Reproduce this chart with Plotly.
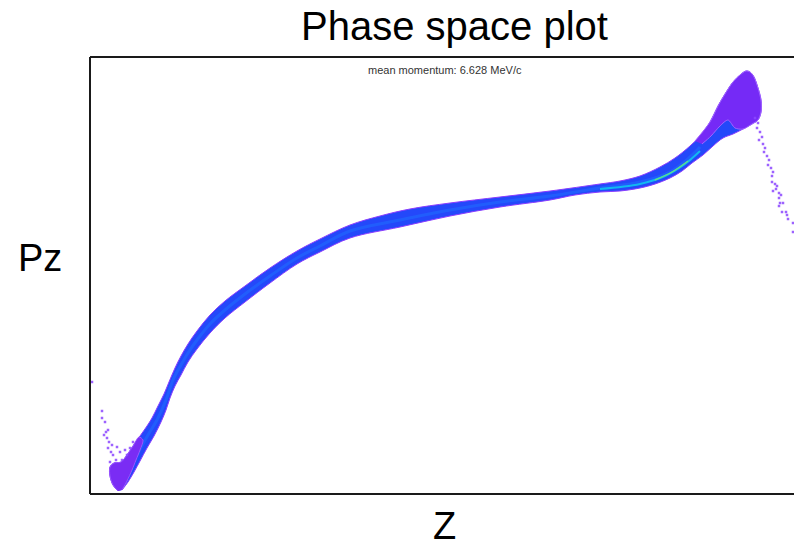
import plotly.graph_objects as go

# Beam envelope in longitudinal phase space: Z [mm] vs Pz [MeV/c]
# Outer boundary of the particle band (upper edge, then lower edge back)
band_z = [0.28, 0.23, 0.20, 0.20, 0.24, 0.31, 0.37, 0.43, 0.50, 0.57, 0.62, 0.68, 0.74, 0.79,
          0.85, 0.91, 0.98, 1.07, 1.20, 1.35, 1.55, 1.80, 2.07, 2.30, 2.60, 2.90, 3.20,
          3.60, 4.10, 4.60, 5.10, 5.30, 5.50, 5.70, 5.85, 6.00, 6.10, 6.20, 6.28, 6.35, 6.43,
          6.50, 6.56, 6.60,
          6.64, 6.68, 6.71, 6.71, 6.68, 6.62, 6.53, 6.43, 6.33, 6.23, 6.13, 6.02, 5.92, 5.80,
          5.65, 5.50, 5.30, 5.10, 4.85, 4.60, 4.10, 3.60, 3.10, 2.60, 2.30, 2.07, 1.80, 1.55,
          1.35, 1.20, 1.07, 0.98, 0.91, 0.85, 0.80, 0.76, 0.71, 0.64, 0.57, 0.50, 0.44, 0.38,
          0.32]
band_pz = [4.03, 4.09, 4.18, 4.27, 4.31, 4.32, 4.39, 4.48, 4.58, 4.68, 4.76, 4.88, 5.00, 5.12,
           5.26, 5.38, 5.50, 5.63, 5.79, 5.93, 6.08, 6.26, 6.43, 6.55, 6.69, 6.78, 6.85,
           6.91, 6.97, 7.03, 7.10, 7.13, 7.18, 7.27, 7.36, 7.48, 7.58, 7.72, 7.88, 8.00, 8.12,
           8.19, 8.23, 8.22,
           8.17, 8.06, 7.94, 7.82, 7.74, 7.70, 7.65, 7.60, 7.56, 7.48, 7.39, 7.31, 7.23, 7.16,
           7.10, 7.06, 7.03, 7.02, 6.99, 6.94, 6.87, 6.78, 6.67, 6.56, 6.42, 6.30, 6.11, 5.92,
           5.76, 5.61, 5.45, 5.32, 5.19, 5.08, 4.96, 4.84, 4.72, 4.58, 4.46, 4.33, 4.22, 4.12,
           4.04]

# Low-momentum tail (bunch head)
tip_z = [0.28, 0.23, 0.20, 0.20, 0.24, 0.31, 0.37, 0.43, 0.49, 0.53, 0.50, 0.46, 0.42, 0.37, 0.32]
tip_pz = [4.03, 4.09, 4.18, 4.27, 4.31, 4.32, 4.39, 4.48, 4.57, 4.54, 4.44, 4.34, 4.24, 4.13, 4.04]

# High-momentum fan near the peak
fan_z = [6.05, 6.20, 6.28, 6.35, 6.43, 6.50, 6.56, 6.60, 6.64, 6.68, 6.71, 6.71, 6.68, 6.62,
         6.53, 6.45, 6.38, 6.30, 6.21, 6.12]
fan_pz = [7.53, 7.72, 7.88, 8.00, 8.12, 8.19, 8.23, 8.22, 8.17, 8.06, 7.94, 7.82, 7.74, 7.70,
          7.65, 7.66, 7.74, 7.68, 7.58, 7.50]

# Dense core of the band
core_z = [0.47, 0.58, 0.67, 0.76, 0.83, 0.91, 0.98, 1.07, 1.20, 1.35, 1.55, 1.80, 2.07,
          2.30, 2.60, 3.10, 3.60, 4.10, 4.60, 5.10, 5.50, 5.80, 6.00, 6.10]
core_pz = [4.39, 4.59, 4.74, 4.94, 5.14, 5.29, 5.41, 5.54, 5.70, 5.84, 6.00, 6.18, 6.36,
           6.48, 6.63, 6.74, 6.84, 6.92, 6.98, 7.06, 7.12, 7.22, 7.37, 7.47]

# Highest-density streak
hot_z = [5.10, 5.50, 5.75, 5.95, 6.10]
hot_pz = [7.05, 7.10, 7.18, 7.30, 7.43]
peak_z = [5.65, 5.82, 5.98]
peak_pz = [7.14, 7.22, 7.33]

# Isolated particles in the tails
tail_r_z = [6.65, 6.68, 6.67, 6.70, 6.72, 6.69, 6.73, 6.75, 6.74, 6.77, 6.79, 6.78, 6.81, 6.83,
            6.82, 6.82, 6.85, 6.87, 6.86, 6.83, 6.89, 6.91, 6.89, 6.90, 6.93, 6.89, 6.92, 6.96,
            6.97, 6.98, 7.03, 7.03]
tail_r_pz = [7.76, 7.71, 7.66, 7.62, 7.57, 7.54, 7.50, 7.46, 7.42, 7.38, 7.34, 7.29, 7.26, 7.22,
             7.18, 7.12, 7.10, 7.08, 7.05, 7.03, 7.01, 6.99, 6.96, 6.91, 6.91, 6.88, 6.82, 6.82,
             6.79, 6.75, 6.71, 6.62]
tail_l_z = [0.02, 0.12, 0.12, 0.15, 0.16, 0.18, 0.14, 0.17, 0.19, 0.22, 0.18, 0.21, 0.23, 0.27,
            0.30, 0.26, 0.32, 0.20, 0.43, 0.40, 0.37, 0.35]
tail_l_pz = [5.12, 4.83, 4.76, 4.72, 4.62, 4.64, 4.59, 4.56, 4.52, 4.49, 4.46, 4.42, 4.39, 4.47,
             4.42, 4.34, 4.34, 4.32, 4.52, 4.46, 4.39, 4.44]

mean_momentum = 6.628

PURPLE = "#8a3cff"
fig = go.Figure()

fig.add_trace(go.Scatter(x=band_z, y=band_pz, mode="lines", fill="toself",
                         fillcolor="#2448fa",
                         line=dict(color=PURPLE, width=1.0, shape="spline", smoothing=1.0),
                         hoverinfo="skip"))
fig.add_trace(go.Scatter(x=core_z, y=core_pz, mode="lines",
                         line=dict(color="rgba(30,120,255,0.45)", width=3, shape="spline"),
                         hoverinfo="skip"))
fig.add_trace(go.Scatter(x=hot_z, y=hot_pz, mode="lines",
                         line=dict(color="#12b8f0", width=2, shape="spline"), hoverinfo="skip"))
fig.add_trace(go.Scatter(x=peak_z, y=peak_pz, mode="lines",
                         line=dict(color="#5fe08a", width=1.4, shape="spline"), hoverinfo="skip"))
fig.add_trace(go.Scatter(x=tip_z, y=tip_pz, mode="lines", fill="toself",
                         fillcolor="#7a2cf4",
                         line=dict(color="#9a55ff", width=1, shape="spline", smoothing=0.8),
                         hoverinfo="skip"))
fig.add_trace(go.Scatter(x=fan_z, y=fan_pz, mode="lines", fill="toself",
                         fillcolor="rgba(125,40,245,0.92)",
                         line=dict(color="#a066ff", width=1, shape="spline", smoothing=0.8),
                         hoverinfo="skip"))
for tz, tp in ((tail_r_z, tail_r_pz), (tail_l_z, tail_l_pz)):
    fig.add_trace(go.Scatter(x=tz, y=tp, mode="markers",
                             marker=dict(symbol="square", size=2.5, color="rgba(140,70,255,0.85)",
                                         line=dict(width=0)),
                             hoverinfo="skip"))

FONT = "Liberation Sans, Arial, sans-serif"
fig.update_layout(
    width=794, height=548,
    margin=dict(l=90, r=0, t=57, b=54),
    paper_bgcolor="white", plot_bgcolor="white",
    showlegend=False,
    font=dict(family=FONT, color="black"),
    xaxis=dict(range=[0, 7.04], visible=False, fixedrange=True),
    yaxis=dict(range=[4.0, 8.37], visible=False, fixedrange=True),
    shapes=[
        dict(type="line", xref="paper", yref="paper", x0=0, x1=0, y0=0, y1=1,
             line=dict(color="#1a1a1a", width=2)),
        dict(type="line", xref="paper", yref="paper", x0=0, x1=1.01, y0=1, y1=1,
             line=dict(color="#1a1a1a", width=2)),
        dict(type="line", xref="paper", yref="paper", x0=0, x1=1.01, y0=0, y1=0,
             line=dict(color="#1a1a1a", width=2)),
    ],
    annotations=[
        dict(text="Phase space plot", xref="paper", yref="paper", x=0.518, y=1.0,
             yshift=31, showarrow=False, font=dict(size=40), xanchor="center", yanchor="middle"),
        dict(text="Pz", xref="paper", yref="paper", x=0, xshift=-50, y=0.539,
             showarrow=False, font=dict(size=38), xanchor="center", yanchor="middle"),
        dict(text="Z", xref="paper", yref="paper", x=0.503, y=0, yshift=-32,
             showarrow=False, font=dict(size=38), xanchor="center", yanchor="middle"),
        dict(text=f"mean momentum: {mean_momentum:.3f} MeV/c", xref="paper", yref="paper",
             x=0.504, y=0.970, showarrow=False, font=dict(size=11, color="#333333"),
             xanchor="center", yanchor="middle"),
    ],
)

fig.write_html("out.html", config={"displayModeBar": False})
